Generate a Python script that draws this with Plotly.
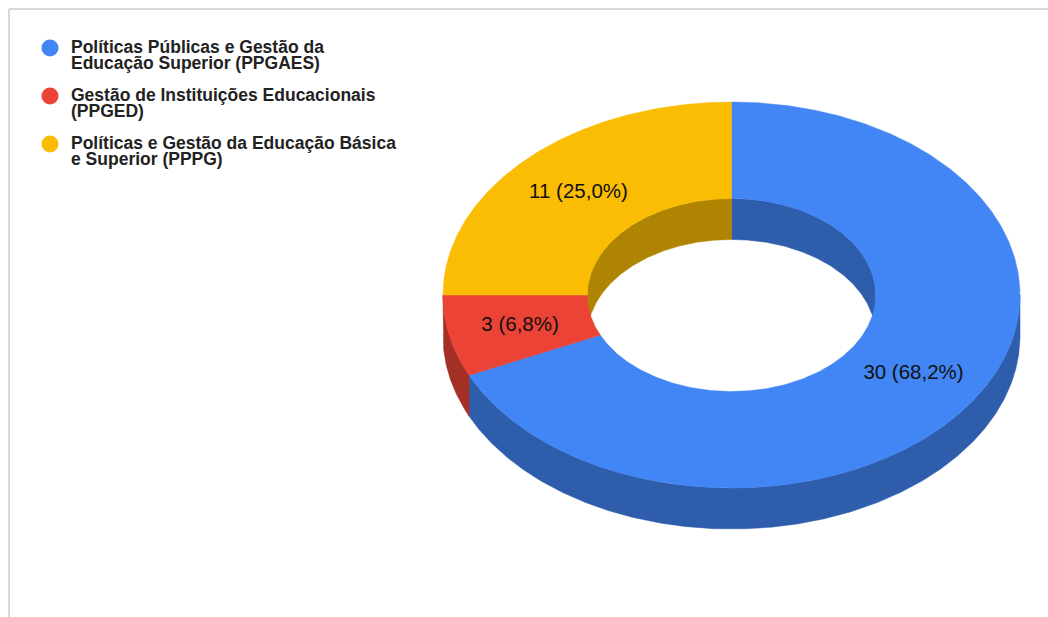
import numpy as np
import plotly.graph_objects as go

# Data
categories = ["Políticas Públicas e Gestão da Educação Superior (PPGAES)",
              "Gestão de Instituições Educacionais (PPGED)",
              "Políticas e Gestão da Educação Básica e Superior (PPPG)"]
legend_lines = [["Políticas Públicas e Gestão da", "Educação Superior (PPGAES)"],
                ["Gestão de Instituições Educacionais", "(PPGED)"],
                ["Políticas e Gestão da Educação Básica", "e Superior (PPPG)"]]
values = [30, 3, 11]
slice_labels = ["30 (68,2%)", "3 (6,8%)", "11 (25,0%)"]
colors = ["#4285F4", "#EB4335", "#FBBC04"]
dark_colors = ["#2E5DAB", "#A42F25", "#B08403"]

# Geometry of the tilted ring, in pixels of the 1048x617 canvas
CX, CY = 731.5, 295.0
RX, RY = 288.5, 193.0
HOLE = 0.5
DEPTH = 41.0
LABEL_R = 0.75


def pt(t, r=1.0, dy=0.0):
    return CX + RX * r * np.sin(t), CY - RY * r * np.cos(t) + dy


def arc(a, b):
    n = max(int(abs(b - a) * 120), 2)
    return np.linspace(a, b, n)


def poly(fig, xs, ys, color):
    fig.add_trace(go.Scatter(x=xs, y=ys, mode="lines", fill="toself", fillcolor=color,
                             line=dict(color=color, width=0.5), hoverinfo="skip", showlegend=False))


fig = go.Figure()

total = sum(values)
bounds = np.concatenate([[0], np.cumsum(values)]) / total * 2 * np.pi
slices = list(zip(bounds[:-1], bounds[1:]))

# Outer wall: visible on the lower half of the ring
for (a, b), dc in zip(slices, dark_colors):
    lo, hi = max(a, np.pi / 2), min(b, 3 * np.pi / 2)
    if lo < hi:
        t = arc(lo, hi)
        x1, y1 = pt(t)
        x2, y2 = pt(t[::-1], dy=DEPTH)
        poly(fig, np.r_[x1, x2, x1[0]], np.r_[y1, y2, y1[0]], dc)

# Inner wall: visible on the upper half of the hole
for (a, b), dc in zip(slices, dark_colors):
    for lo, hi in [(max(a, 0), min(b, np.pi / 2)), (max(a, 3 * np.pi / 2), min(b, 2 * np.pi))]:
        if lo < hi:
            t = arc(lo, hi)
            x1, y1 = pt(t, HOLE)
            x2, y2 = pt(t[::-1], HOLE, DEPTH)
            poly(fig, np.r_[x1, x2, x1[0]], np.r_[y1, y2, y1[0]], dc)

# Top faces
for (a, b), c in zip(slices, colors):
    t = arc(a, b)
    x1, y1 = pt(t)
    x2, y2 = pt(t[::-1], HOLE)
    poly(fig, np.r_[x1, x2, x1[0]], np.r_[y1, y2, y1[0]], c)

# Slice labels
mids = [(a + b) / 2 for a, b in slices]
lx, ly = pt(np.array(mids), LABEL_R)
fig.add_trace(go.Scatter(x=lx, y=ly + 0.5, mode="text", text=slice_labels, textposition="middle center",
                         textfont=dict(family="Liberation Sans, Arial, sans-serif", size=20.5, color="#111111"),
                         hoverinfo="skip", showlegend=False))

# Legend drawn with markers and per-line texts for the tight line spacing
LEG_X, TXT_X, LEG_Y0, LEG_STEP, LINE_H = 50, 71, 48.5, 48, 16
leg_y = [LEG_Y0 + i * LEG_STEP for i in range(len(categories))]
fig.add_trace(go.Scatter(x=[LEG_X] * len(categories), y=[y - 0.5 for y in leg_y], mode="markers",
                         marker=dict(size=17, color=colors, line=dict(width=0)),
                         hovertext=categories, hoverinfo="text", showlegend=False))
for y, lines in zip(leg_y, legend_lines):
    fig.add_trace(go.Scatter(x=[TXT_X] * len(lines), y=[y + i * LINE_H for i in range(len(lines))],
                             mode="text", text=lines, textposition="middle right",
                             textfont=dict(family="Liberation Sans, Arial, sans-serif", size=17.5,
                                           color="#222222", weight="bold"),
                             hoverinfo="skip", showlegend=False))

fig.update_layout(
    width=1048, height=617, margin=dict(l=0, r=0, t=0, b=0),
    paper_bgcolor="white", plot_bgcolor="white", showlegend=False,
    xaxis=dict(range=[0, 1048], visible=False, fixedrange=True),
    yaxis=dict(range=[617, 0], visible=False, fixedrange=True),
    shapes=[
        dict(type="line", xref="x", yref="y", x0=9, x1=1048, y0=9, y1=9, line=dict(color="#D9D9D9", width=2)),
        dict(type="line", xref="x", yref="y", x0=9, x1=9, y0=9, y1=617, line=dict(color="#D9D9D9", width=2)),
    ],
)
fig.write_html("out.html", config={"displayModeBar": False},
               post_script="document.body.style.margin='0';document.body.style.overflow='hidden';")
